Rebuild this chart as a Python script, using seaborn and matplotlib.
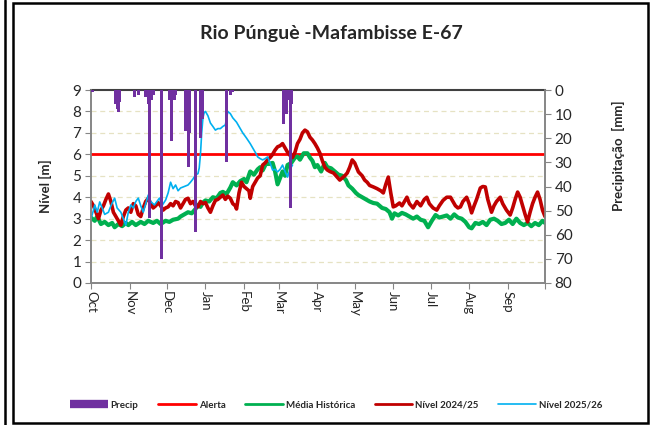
import numpy as np
import pandas as pd
import seaborn as sns
import matplotlib
matplotlib.use("Agg")
import matplotlib.pyplot as plt
from matplotlib.patches import Rectangle
from matplotlib.lines import Line2D

# days counted from 1 Oct
month_days = [0, 31, 61, 92, 123, 151, 182, 212, 243, 273, 304, 335, 365]
month_labels = ["Oct", "Nov", "Dec", "Jan", "Feb", "Mar", "Apr", "May", "Jun", "Jul", "Aug", "Sep", ""]

alerta = 6.0

precip_day = [1, 20, 21, 22, 23, 35, 38, 44, 46, 47, 49, 50, 57, 63, 65, 67, 68,
              76, 78, 79, 84, 88, 90, 109, 112, 114, 155, 157, 158, 160, 161]
precip_mm = [1, 6, 8, 9, 5, 3, 2, 3, 6, 53, 4, 2, 70, 4, 21, 4, 2,
             17, 32, 18, 59, 20, 12, 30, 2, 1, 14, 10, 4, 49, 6]

media_day = [0, 3, 5, 8, 11, 14, 17, 19, 22, 25, 28, 30, 33, 36, 40, 43, 46, 50, 53, 56,
             60, 63, 66, 70, 72, 75, 78, 81, 84, 86, 88, 90, 92, 95, 98, 101, 104, 106, 109,
             112, 114, 117, 120, 123, 125, 128, 131, 134, 136, 138, 141, 143, 146, 148, 150,
             152, 154, 156, 158, 161, 164, 166, 168, 171, 174, 176, 178, 180, 182, 185, 188,
             190, 193, 196, 199, 202, 205, 207, 210, 213, 215, 218, 221, 224, 227, 230, 234,
             237, 240, 242, 244, 247, 250, 253, 256, 259, 262, 265, 268, 271, 274, 277, 280,
             283, 286, 289, 292, 295, 298, 301, 304, 306, 309, 312, 315, 318, 321, 324, 327,
             330, 333, 336, 339, 342, 345, 348, 351, 354, 357, 360, 363, 365]
media_val = [3.05, 2.9, 3.1, 2.75, 2.85, 2.7, 2.8, 2.6, 2.75, 2.65, 2.8, 2.7, 2.85, 2.7, 2.85,
             2.75, 2.9, 2.8, 2.9, 2.75, 2.9, 2.85, 2.95, 3.0, 3.1, 3.2, 3.3, 3.25, 3.45, 3.65,
             3.55, 3.75, 3.85, 3.8, 4.0, 3.95, 4.2, 4.25, 4.15, 4.45, 4.7, 4.55, 4.75, 4.85,
             4.7, 5.2, 5.05, 5.3, 5.4, 5.25, 5.6, 5.55, 5.6, 5.2, 4.6, 4.9, 5.2, 5.0, 5.5, 5.6,
             5.85, 5.9, 5.75, 6.05, 6.05, 5.85, 5.7, 5.4, 5.5, 5.2, 5.6, 5.4, 5.35, 5.2, 5.05,
             5.0, 4.8, 4.55, 4.4, 4.2, 4.1, 4.0, 3.9, 3.8, 3.73, 3.7, 3.5, 3.45, 3.3, 3.0, 3.25,
             3.15, 3.27, 3.2, 3.1, 3.0, 3.1, 2.95, 2.9, 2.6, 2.9, 3.17, 3.05, 3.1, 3.15, 3.0,
             3.2, 3.05, 3.0, 2.85, 2.6, 2.55, 2.8, 2.75, 2.85, 2.7, 2.95, 3.0, 2.9, 2.75, 2.8,
             2.95, 2.75, 3.0, 2.8, 2.7, 2.8, 2.65, 2.8, 2.7, 2.9, 2.8]

n2425_day = [0, 2, 4, 6, 8, 10, 12, 14, 16, 18, 20, 22, 24, 26, 28, 30, 32, 34, 36, 38, 40,
             42, 44, 46, 48, 50, 52, 54, 56, 58, 60, 62, 64, 66, 68, 70, 72, 74, 76, 78, 80,
             82, 84, 86, 88, 90, 92, 94, 96, 98, 100, 102, 104, 106, 108, 110, 112, 114, 116,
             117, 119, 121, 123, 125, 127, 128, 130, 132, 134, 136, 138, 140, 142, 144, 146,
             148, 150, 152, 154, 156, 158, 160, 162, 164, 166, 168, 170, 172, 174, 176, 178,
             180, 182, 184, 186, 188, 190, 192, 195, 197, 200, 202, 204, 206, 208, 210, 212,
             215, 218, 220, 222, 224, 227, 230, 233, 235, 237, 239, 241, 243, 245, 248, 250,
             252, 254, 256, 259, 262, 265, 268, 270, 272, 275, 278, 280, 283, 286, 289, 291,
             293, 295, 297, 299, 302, 304, 306, 308, 310, 313, 315, 317, 319, 322, 324, 326,
             329, 331, 334, 337, 339, 341, 343, 345, 347, 349, 351, 353, 355, 357, 359, 361,
             363, 365]
n2425_val = [3.8, 3.6, 3.3, 3.0, 3.4, 3.6, 3.9, 4.15, 3.8, 3.3, 3.1, 2.9, 2.7, 3.1, 3.4,
             3.5, 3.3, 3.7, 3.6, 3.2, 3.1, 3.5, 3.8, 3.95, 3.7, 3.5, 3.6, 3.75, 3.6, 3.4, 3.5,
             3.55, 3.7, 3.6, 3.8, 3.75, 3.5, 3.7, 3.9, 3.95, 3.7, 3.8, 3.6, 3.55, 3.8, 3.7,
             3.75, 3.5, 3.3, 3.6, 3.85, 3.9, 4.0, 4.1, 3.9, 4.05, 3.95, 3.7, 3.6, 3.45, 4.2,
             4.7, 4.5, 4.4, 4.3, 3.95, 4.5, 4.7, 4.9, 5.0, 5.5, 5.6, 5.75, 5.85, 6.0, 6.2,
             6.35, 6.4, 6.5, 6.3, 6.1, 5.95, 5.85, 6.1, 6.5, 6.7, 7.0, 7.13, 7.05, 6.8, 6.67,
             6.5, 6.3, 6.06, 5.7, 5.4, 5.27, 5.2, 5.13, 5.0, 4.8, 4.9, 5.0, 5.13, 5.4, 5.74,
             5.6, 5.18, 5.0, 4.8, 4.7, 4.55, 4.48, 4.4, 4.3, 4.2, 4.6, 4.94, 4.2, 3.55, 3.6,
             3.73, 3.6, 3.8, 4.0, 3.7, 3.5, 3.8, 3.6, 3.9, 4.0, 3.7, 3.5, 3.4, 3.6, 3.85, 4.0,
             4.0, 3.8, 3.6, 3.5, 3.55, 3.8, 4.0, 3.7, 3.27, 3.6, 3.9, 4.43, 4.5, 4.48, 3.9,
             3.3, 3.6, 3.8, 4.0, 3.7, 3.4, 3.17, 3.5, 3.9, 4.24, 4.0, 3.6, 3.2, 2.85, 3.3,
             3.7, 4.0, 4.24, 3.9, 3.4, 3.1]

n2526_day = [0, 2, 3, 5, 7, 9, 11, 14, 16, 19, 21, 24, 26, 28, 30, 32, 34, 36, 38, 40, 42,
             44, 46, 48, 51, 53, 55, 57, 60, 62, 64, 66, 68, 70, 72, 75, 78, 80, 82, 84, 86,
             87, 88, 89, 90, 91, 92, 94, 96, 98, 100, 102, 104, 106, 108, 110, 112, 114, 117,
             120, 122, 125, 128, 130, 133, 134, 136, 138, 140, 142, 144, 146, 148, 150, 152,
             154, 156, 158, 160, 162]
n2526_val = [3.0, 3.4, 3.64, 3.3, 3.78, 3.5, 3.2, 3.3, 3.6, 3.96, 3.5, 3.3, 3.0, 2.7, 3.3,
             3.64, 3.5, 3.8, 3.96, 3.6, 3.3, 3.7, 4.1, 3.8, 3.64, 3.8, 3.96, 3.6, 3.87, 4.2,
             4.7, 4.4, 4.57, 4.3, 4.43, 4.5, 4.57, 4.7, 4.85, 5.04, 5.1, 5.36, 6.0, 7.0, 7.7,
             7.95, 8.0, 7.8, 7.46, 7.3, 7.13, 7.2, 7.2, 7.3, 7.37, 8.0, 7.9, 7.7, 7.5, 7.2,
             7.0, 6.76, 6.5, 6.3, 6.0, 5.88, 5.8, 5.74, 5.8, 5.88, 5.6, 5.27, 5.3, 5.18, 5.3,
             5.5, 5.2, 4.94, 5.3, 5.5]

c_precip = "#7030A0"
c_alerta = "#FF0000"
c_media = "#00B050"
c_2425 = "#C00000"
c_2526 = "#00B0F0"

sns.set_style("white")
plt.rcParams["font.family"] = ["Lato", "DejaVu Sans"]

fig = plt.figure(figsize=(6.52, 4.25), dpi=100)
ax = fig.add_axes([91 / 652, 1 - 283 / 425, 454 / 652, 193 / 425])

# grid
for g in range(1, 9):
    ax.axhline(g, color="#E6E2C3", lw=0.9, ls=(0, (4, 3)), zorder=0)

ax.axhline(alerta, color=c_alerta, lw=2, zorder=3)
sns.lineplot(x=media_day, y=media_val, ax=ax, color=c_media, lw=3.0, zorder=4)
sns.lineplot(x=n2425_day, y=n2425_val, ax=ax, color=c_2425, lw=2.6, zorder=5)
sns.lineplot(x=n2526_day, y=n2526_val, ax=ax, color=c_2526, lw=1.2, zorder=6)

ax.set_xlim(0, 365)
ax.set_ylim(0, 9)
ax.set_yticks(range(0, 10))
ax.set_xticks(month_days)
ax.set_xticklabels(month_labels, rotation=270, fontsize=9.5, va="top", ha="center")
ax.tick_params(axis="y", labelsize=11, length=4, color="#868686", direction="out", left=True, pad=3)
ax.tick_params(axis="x", length=4, color="#868686", direction="out", bottom=True, pad=2)
ax.set_ylabel("Nível [m]", fontsize=9.5, fontweight="bold")
ax.yaxis.set_label_coords(-0.085, 0.5)
ax.set_xlabel("")
for s in ["left", "right", "bottom"]:
    ax.spines[s].set_color("#868686")
    ax.spines[s].set_linewidth(1.2)
ax.spines["top"].set_color("#404040")
ax.spines["top"].set_linewidth(1.5)

ax2 = ax.twinx()
ax2.bar(precip_day, precip_mm, width=2.4, color=c_precip, edgecolor="none", linewidth=0,
        align="center", zorder=7)
ax2.set_ylim(80, 0)
ax2.set_yticks(range(0, 81, 10))
ax2.tick_params(axis="y", labelsize=11, length=4, color="#868686", direction="out", right=True, pad=3)
ax2.set_ylabel("Precipitação  [mm]", fontsize=9.5, fontweight="bold")
ax2.yaxis.set_label_coords(1.148, 0.66)
for s in ["left", "right", "bottom"]:
    ax2.spines[s].set_color("#868686")
    ax2.spines[s].set_linewidth(1.2)
ax2.spines["top"].set_visible(False)

fig.text(331 / 652, 1 - 33 / 425, "Rio Púnguè -Mafambisse E-67", ha="center", va="center",
         fontsize=14, fontweight="bold")

handles = [
    Line2D([0], [0], color=c_precip, lw=6, solid_capstyle="butt"),
    Line2D([0], [0], color=c_alerta, lw=2),
    Line2D([0], [0], color=c_media, lw=2),
    Line2D([0], [0], color=c_2425, lw=2),
    Line2D([0], [0], color=c_2526, lw=1.2),
]
labels = ["Precip", "Alerta", "Média Histórica", "Nível 2024/25", "Nível 2025/26"]
fig.legend(handles, labels, loc="center", bbox_to_anchor=(336 / 652, 1 - 405 / 425), ncol=5,
           frameon=False, prop={"weight": "bold", "size": 7},
           handlelength=3.9, handletextpad=0.3, columnspacing=2.0)

# outer frame
fig.add_artist(Rectangle((13 / 652, 2 / 425), 635 / 652, 420 / 425, transform=fig.transFigure,
                         fill=False, edgecolor="black", lw=1.8))
fig.add_artist(Line2D([5 / 652, 5 / 652], [0, 1], transform=fig.transFigure, color="black", lw=1.8))

fig.savefig("out.png", dpi=100)
